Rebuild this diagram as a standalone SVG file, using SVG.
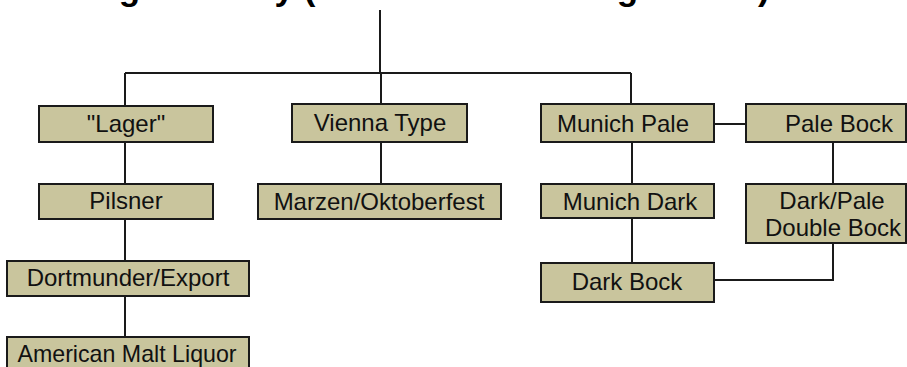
<svg xmlns="http://www.w3.org/2000/svg" width="907" height="367" viewBox="0 0 907 367">
<style>
.box{fill:#c9c59d;stroke:#1a1a1a;stroke-width:2}
.lbl{font-family:"Liberation Sans",Arial,sans-serif;font-size:24px;fill:#111;text-anchor:middle}
.title{font-family:"Liberation Sans",Arial,sans-serif;font-size:35px;font-weight:bold;fill:#000}
.c{fill:none;stroke:#1a1a1a;stroke-width:2}
</style>
<rect width="907" height="367" fill="#fff"/>
<text class="title" x="78" y="0">Lager Family (Bottom Fermenting Yeasts)</text>
<g id="connectors">
<path class="c" d="M380 10V73M125 73H631M125 73V106M381 73V104M631 73V104"/>
<path class="c" d="M125 142V184M125 219V261M125 296V337"/>
<path class="c" d="M381 142V184"/>
<path class="c" d="M632 142V184M632 218V263M714 124H746M833 142V184M833 243V280H714"/>
</g>
<g id="lager"><rect class="box" x="39" y="106" width="174" height="36"/><text class="lbl" x="126" y="132">"Lager"</text></g>
<g id="pilsner"><rect class="box" x="39" y="184" width="174" height="35"/><text class="lbl" x="126" y="209">Pilsner</text></g>
<g id="dortmunder"><rect class="box" x="7" y="261" width="242" height="35"/><text class="lbl" x="128" y="286">Dortmunder/Export</text></g>
<g id="american"><rect class="box" x="7" y="337" width="242" height="36"/><text class="lbl" x="127" y="362" style="font-size:23.2px">American Malt Liquor</text></g>
<g id="vienna"><rect class="box" x="292" y="104" width="175" height="38"/><text class="lbl" x="380" y="131">Vienna Type</text></g>
<g id="marzen"><rect class="box" x="258" y="184" width="243" height="35"/><text class="lbl" x="379" y="209.5">Marzen/Oktoberfest</text></g>
<g id="munich-pale"><rect class="box" x="541" y="104" width="173" height="38"/><text class="lbl" x="623" y="132">Munich Pale</text></g>
<g id="pale-bock"><rect class="box" x="746" y="104" width="160" height="38"/><text class="lbl" x="839" y="132">Pale Bock</text></g>
<g id="munich-dark"><rect class="box" x="541" y="184" width="173" height="34"/><text class="lbl" x="630" y="210">Munich Dark</text></g>
<g id="double-bock"><rect class="box" x="746" y="184" width="160" height="59"/><text class="lbl" x="832" y="209">Dark/Pale</text><text class="lbl" x="833" y="236">Double Bock</text></g>
<g id="dark-bock"><rect class="box" x="541" y="263" width="173" height="39"/><text class="lbl" x="627" y="290">Dark Bock</text></g>
</svg>
